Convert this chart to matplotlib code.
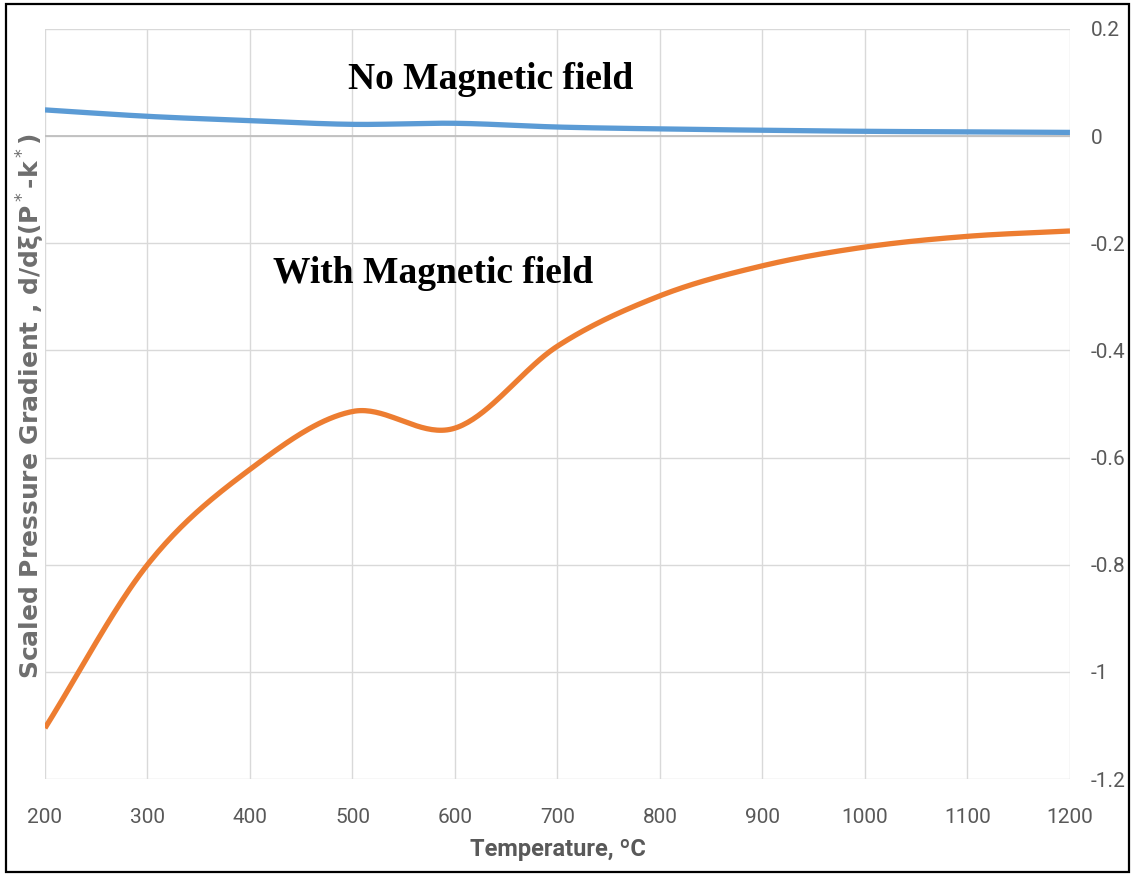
import numpy as np
import matplotlib
matplotlib.use("Agg")
import matplotlib.pyplot as plt
from matplotlib.patches import Rectangle

# Temperature (°C) and scaled pressure gradient values
temperature = [200, 300, 400, 500, 600, 700, 800, 900, 1000, 1100, 1200]
no_field = [0.049, 0.037, 0.029, 0.022, 0.024, 0.017, 0.0135, 0.011, 0.009, 0.008, 0.007]
with_field = [-1.105, -0.800, -0.622, -0.514, -0.545, -0.392, -0.298, -0.242, -0.207, -0.187, -0.177]

x_ticks = [200, 300, 400, 500, 600, 700, 800, 900, 1000, 1100, 1200]
y_ticks = [0.2, 0, -0.2, -0.4, -0.6, -0.8, -1, -1.2]
y_tick_labels = ["0.2", "0", "-0.2", "-0.4", "-0.6", "-0.8", "-1", "-1.2"]


def smooth(x, y, n=40):
    """Catmull-Rom style smoothed line through the given points."""
    x = np.asarray(x, float)
    y = np.asarray(y, float)
    m = np.zeros_like(y)
    m[1:-1] = (y[2:] - y[:-2]) / (x[2:] - x[:-2])
    m[0] = (y[1] - y[0]) / (x[1] - x[0])
    m[-1] = (y[-1] - y[-2]) / (x[-1] - x[-2])
    xs, ys = [], []
    for i in range(len(x) - 1):
        h = x[i + 1] - x[i]
        t = np.linspace(0, 1, n, endpoint=False)
        h00 = 2 * t**3 - 3 * t**2 + 1
        h10 = t**3 - 2 * t**2 + t
        h01 = -2 * t**3 + 3 * t**2
        h11 = t**3 - t**2
        xs.append(x[i] + t * h)
        ys.append(h00 * y[i] + h10 * h * m[i] + h01 * y[i + 1] + h11 * h * m[i + 1])
    xs.append([x[-1]])
    ys.append([y[-1]])
    return np.concatenate(xs), np.concatenate(ys)


fig = plt.figure(figsize=(11.35, 8.76), dpi=100)
ax = fig.add_axes([0.0396, 0.1107, 0.9031, 0.8562])

grid_c = "#D9D9D9"
for xv in x_ticks:
    ax.axvline(xv, color=grid_c, lw=1.0, zorder=0)
for yv in y_ticks:
    ax.axhline(yv, color=grid_c, lw=1.0, zorder=0)
ax.axhline(0, color="#BFBFBF", lw=1.3, zorder=0.5)

bx, by = smooth(temperature, no_field)
ox, oy = smooth(temperature, with_field)
ax.plot(bx, by, color="#5B9BD5", lw=3.8, solid_capstyle="butt", zorder=3)
ax.plot(ox, oy, color="#ED7D31", lw=3.8, solid_capstyle="butt", zorder=3)

ax.set_xlim(200, 1200)
ax.set_ylim(-1.2, 0.2)
for s in ax.spines.values():
    s.set_visible(False)

tick_font = ["Roboto", "DejaVu Sans"]
ax.set_xticks(x_ticks)
ax.set_xticklabels([str(v) for v in x_ticks], family=tick_font, fontsize=15, color="#595959")
ax.yaxis.tick_right()
ax.set_yticks(y_ticks)
ax.set_yticklabels(y_tick_labels, family=tick_font, fontsize=15, color="#595959", ha="left")
ax.tick_params(axis="both", length=0)
ax.tick_params(axis="x", pad=21)
ax.tick_params(axis="y", pad=15)

ax.set_xlabel("Temperature, ºC", family=tick_font, fontsize=17, fontweight="bold",
              color="#595959", labelpad=8)
fig.text(0.027, 0.536, r"Scaled Pressure Gradient , d/dξ(P$^*$-k$^*$)", rotation=90,
         ha="center", va="center", fontsize=18, fontweight="bold", color="#6E6E6E",
         family="DejaVu Sans")

ax.text(635, 0.105, "No Magnetic field", family="Liberation Serif", fontweight="bold",
        fontsize=27, ha="center", va="center", color="black", zorder=4)
ax.text(579, -0.256, "With Magnetic field", family="Liberation Serif", fontweight="bold",
        fontsize=27, ha="center", va="center", color="black", zorder=4)

fig.patches.append(Rectangle((0.0053, 0.0046), 0.9894, 0.9908, transform=fig.transFigure,
                             fill=False, edgecolor="black", lw=1.6))

fig.savefig("out.png", dpi=100)
